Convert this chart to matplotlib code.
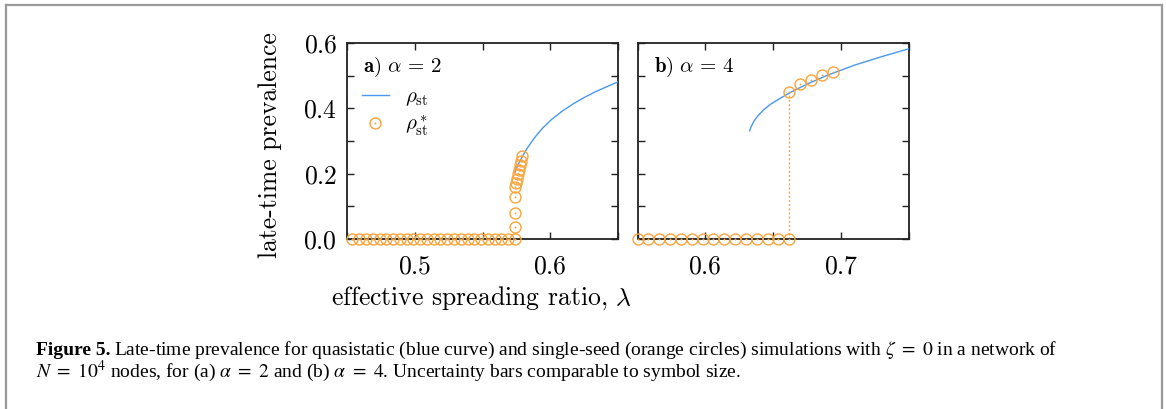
import matplotlib
matplotlib.use('Agg')
import matplotlib.pyplot as plt
from matplotlib.lines import Line2D
from matplotlib.ticker import MultipleLocator

plt.rcParams['font.family'] = 'cmr10'
plt.rcParams['mathtext.fontset'] = 'cm'
plt.rcParams['axes.unicode_minus'] = False

BLUE = '#4a98f0'
ORANGE = '#f9a43c'
SPINE = '#222222'

# panel a: alpha = 2
lam_a_zero = [0.454, 0.459, 0.464, 0.469, 0.474, 0.479, 0.484, 0.489, 0.494,
              0.499, 0.504, 0.509, 0.514, 0.519, 0.524, 0.529, 0.534, 0.539,
              0.544, 0.549, 0.554, 0.559, 0.564, 0.569, 0.574]
lam_a_up = [0.5742, 0.5742, 0.5742, 0.5742, 0.5746, 0.5752, 0.5760, 0.5768,
            0.5776, 0.5784, 0.5793]
rho_a_up = [0.038, 0.080, 0.130, 0.160, 0.172, 0.184, 0.198, 0.212, 0.226,
            0.240, 0.253]
lam_a_qs = [0.5740, 0.5760, 0.5790, 0.5830, 0.5880, 0.5940, 0.6010, 0.6090,
            0.6170, 0.6250, 0.6330, 0.6410, 0.6500]
rho_a_qs = [0.205, 0.225, 0.250, 0.278, 0.308, 0.338, 0.366, 0.392, 0.414,
            0.433, 0.450, 0.465, 0.481]

# panel b: alpha = 4
lam_b_zero = [0.550, 0.558, 0.566, 0.574, 0.582, 0.590, 0.598, 0.606, 0.614,
              0.622, 0.630, 0.638, 0.646, 0.654, 0.662]
lam_b_up = [0.662, 0.670, 0.678, 0.686, 0.694]
rho_b_up = [0.451, 0.474, 0.487, 0.502, 0.511]
lam_b_qs = [0.6327, 0.6340, 0.6360, 0.6390, 0.6430, 0.6480, 0.6550, 0.6630,
            0.6750, 0.6900, 0.7100, 0.7300, 0.7500]
rho_b_qs = [0.331, 0.345, 0.361, 0.378, 0.395, 0.412, 0.430, 0.449, 0.474,
            0.501, 0.532, 0.558, 0.582]

panels = [
    dict(lam_zero=lam_a_zero, lam_up=lam_a_up, rho_up=rho_a_up,
         lam_qs=lam_a_qs, rho_qs=rho_a_qs, xlim=(0.45, 0.65),
         xticks=[0.5, 0.6], label=r'$\mathbf{a)}\ \alpha\, =\, 2$', jump=False),
    dict(lam_zero=lam_b_zero, lam_up=lam_b_up, rho_up=rho_b_up,
         lam_qs=lam_b_qs, rho_qs=rho_b_qs, xlim=(0.55, 0.75),
         xticks=[0.6, 0.7], label=r'$\mathbf{b)}\ \alpha\, =\, 4$', jump=True),
]

W, H = 1166, 409
fig = plt.figure(figsize=(W / 100, H / 100), dpi=100)

ax_boxes = [(347, 43, 271, 196), (637.5, 43, 271, 196)]


def circles(ax, x, y):
    ax.plot(x, y, ls='none', marker='o', mfc='none', mec=ORANGE, ms=7.9,
            mew=1.0, clip_on=False, zorder=4)
    ax.plot(x, y, ls='none', marker='o', mfc=ORANGE, mec=ORANGE, ms=1.0,
            mew=0.3, clip_on=False, zorder=4)


axes = []
for (x0, y0, w, h), p in zip(ax_boxes, panels):
    ax = fig.add_axes([x0 / W, 1 - (y0 + h) / H, w / W, h / H])
    axes.append(ax)
    ax.plot(p['lam_qs'], p['rho_qs'], color=BLUE, lw=1.0, zorder=3)
    if p['jump']:
        ax.plot([p['lam_up'][0], p['lam_up'][0]], [0, p['rho_up'][0]],
                color=ORANGE, lw=1.0, ls=(0, (1.5, 1.5)), zorder=2)
    circles(ax, p['lam_zero'], [0.0] * len(p['lam_zero']))
    circles(ax, p['lam_up'], p['rho_up'])

    ax.set_xlim(*p['xlim'])
    ax.set_ylim(0, 0.6)
    ax.set_xticks(p['xticks'], labels=[f'${v:.1f}$' for v in p['xticks']])
    ax.xaxis.set_minor_locator(MultipleLocator(0.05))
    ax.yaxis.set_minor_locator(MultipleLocator(0.1))
    ax.set_yticks([0.0, 0.2, 0.4, 0.6],
                  labels=[f'${v:.1f}$' for v in [0.0, 0.2, 0.4, 0.6]])
    ax.tick_params(which='both', direction='in', top=True, right=True,
                   length=5, width=1.0, color=SPINE, labelsize=18.5)
    ax.tick_params(axis='x', pad=11)
    ax.tick_params(axis='y', pad=7)
    for s in ax.spines.values():
        s.set_color(SPINE)
        s.set_linewidth(1.3)
    ax.text(0.06, 0.85, p['label'], transform=ax.transAxes, fontsize=15,
            ha='left', va='baseline')

axes[1].tick_params(labelleft=False)

# legend in panel a
h_line = Line2D([], [], color=BLUE, lw=1.0)
h_circ = Line2D([], [], ls='none', marker='o', mfc='none', mec=ORANGE,
                ms=7.9, mew=1.0)
h_dot = Line2D([], [], ls='none', marker='o', mfc=ORANGE, mec=ORANGE,
               ms=1.0, mew=0.3)
axes[0].legend([h_line, (h_circ, h_dot)],
               [r'$\rho_{\rm st}$', r'$\rho^*_{\rm st}$'],
               loc='upper left', bbox_to_anchor=(0.0, 0.845), frameon=False,
               fontsize=15, handlelength=1.3, handletextpad=0.8,
               labelspacing=0.25, borderaxespad=0.3)

fig.text(270 / W, 1 - 145 / H, 'late-time prevalence', rotation=90,
         ha='center', va='center', fontsize=18.5)
fig.text(481 / W, 1 - 298 / H, r'effective spreading ratio, $\lambda$',
         ha='center', va='center', fontsize=18.5)

# caption, bold lead-in followed by the regular text on the same baseline
cap_kw = dict(family='Liberation Serif', math_fontfamily='stix', fontsize=14.0,
              va='baseline')
t1 = fig.text(36 / W, 1 - 355 / H, 'Figure 5.', fontweight='bold', **cap_kw)
fig.canvas.draw()
x_after = (t1.get_window_extent().x1 + 4) / W
fig.text(x_after, 1 - 355 / H,
         'Late-time prevalence for quasistatic (blue curve) and '
         r'single-seed (orange circles) simulations with $\zeta\ =\ 0$ in a '
         'network of', **cap_kw)
fig.text(36 / W, 1 - 377 / H,
         r'$N\ =\ 10^4$ nodes, for (a) $\alpha\ =\ 2$ and (b) $\alpha\ =\ 4$.'
         ' Uncertainty bars comparable to symbol size.', **cap_kw)

# frame around the figure
frame_kw = dict(color='#9a9a9a', lw=1.6, transform=fig.transFigure)
fig.add_artist(Line2D([6 / W, 6 / W], [0, 1 - 5 / H], **frame_kw))
fig.add_artist(Line2D([6 / W, 1161.5 / W], [1 - 5 / H, 1 - 5 / H], **frame_kw))
fig.add_artist(Line2D([1161.5 / W, 1161.5 / W], [0, 1 - 5 / H], **frame_kw))

fig.savefig('out.png', dpi=100)
